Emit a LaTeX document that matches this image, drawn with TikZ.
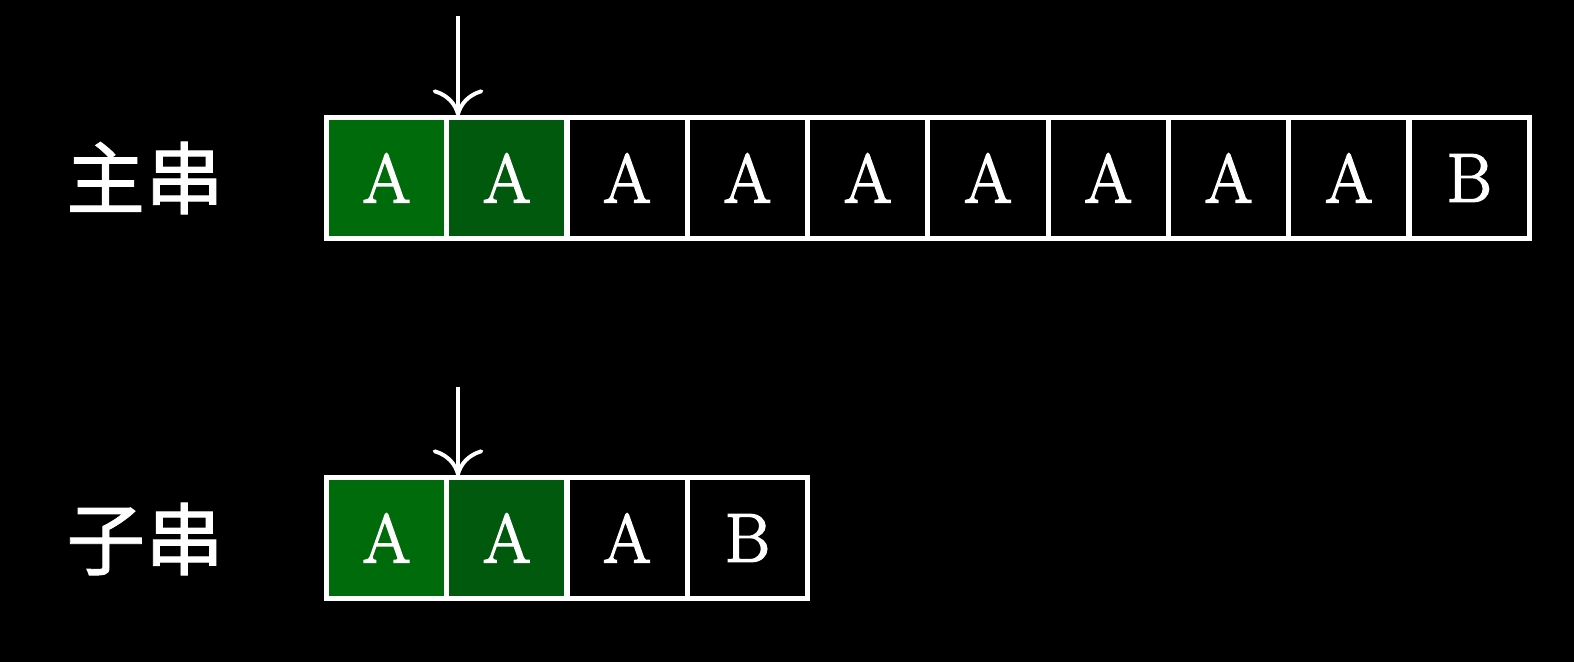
\documentclass[tikz,border=0pt]{standalone}
\usepackage{fontspec}
\newfontfamily\cjk[FakeBold=1.2]{Noto Sans CJK SC}
\newfontfamily\letfont[FakeBold=2.4]{Latin Modern Roman}
\usetikzlibrary{arrows.meta}
\definecolor{gA}{HTML}{006B0B}
\definecolor{gB}{HTML}{00590C}
\tikzset{
  cell/.style={draw=white, line width=3.7pt, minimum size=3.0075cm, inner sep=0pt, outer sep=0pt,
    text=white, font=\letfont\fontsize{49}{49}\selectfont, fill=black},
  lab/.style={text=white, font=\cjk\fontsize{56}{56}\selectfont, inner sep=0pt},
  ptr/.style={draw=white, line width=2.8pt, -{Computer Modern Rightarrow[length=19pt, width=36pt]}}
}
\begin{document}
\begin{tikzpicture}[x=0.025cm, y=-0.025cm]
\fill[black] (0,0) rectangle (1574,662);
\useasboundingbox (0,0) rectangle (1574,662);
\node[lab] (mainlab) at (145,178) {主串};
\node[lab] (sublab) at (145,539) {子串};
\foreach \c [count=\i from 0] in {A,A,A,A,A,A,A,A,A,B}{
  \node[cell] (m\i) at (386.5+120.3*\i,178) {\c};
}
\foreach \c [count=\i from 0] in {A,A,A,B}{
  \node[cell] (s\i) at (386.5+120.3*\i,538) {\c};
}
\fill[gA] ([shift={(1.85pt,1.85pt)}]m0.south west) rectangle ([shift={(-1.85pt,-1.85pt)}]m0.north east);
\fill[gB] ([shift={(1.85pt,1.85pt)}]m1.south west) rectangle ([shift={(-1.85pt,-1.85pt)}]m1.north east);
\fill[gA] ([shift={(1.85pt,1.85pt)}]s0.south west) rectangle ([shift={(-1.85pt,-1.85pt)}]s0.north east);
\fill[gB] ([shift={(1.85pt,1.85pt)}]s1.south west) rectangle ([shift={(-1.85pt,-1.85pt)}]s1.north east);
\foreach \n in {m0,m1,s0,s1}{\node[text=white, font=\letfont\fontsize{49}{49}\selectfont] at (\n) {A};}
\coordinate (p1s) at (458,16);
\coordinate (p1e) at (458,116);
\coordinate (p2s) at (458,387);
\coordinate (p2e) at (458,476);
\draw[ptr] (p1s) -- (p1e);
\draw[ptr] (p2s) -- (p2e);
\end{tikzpicture}
\end{document}
